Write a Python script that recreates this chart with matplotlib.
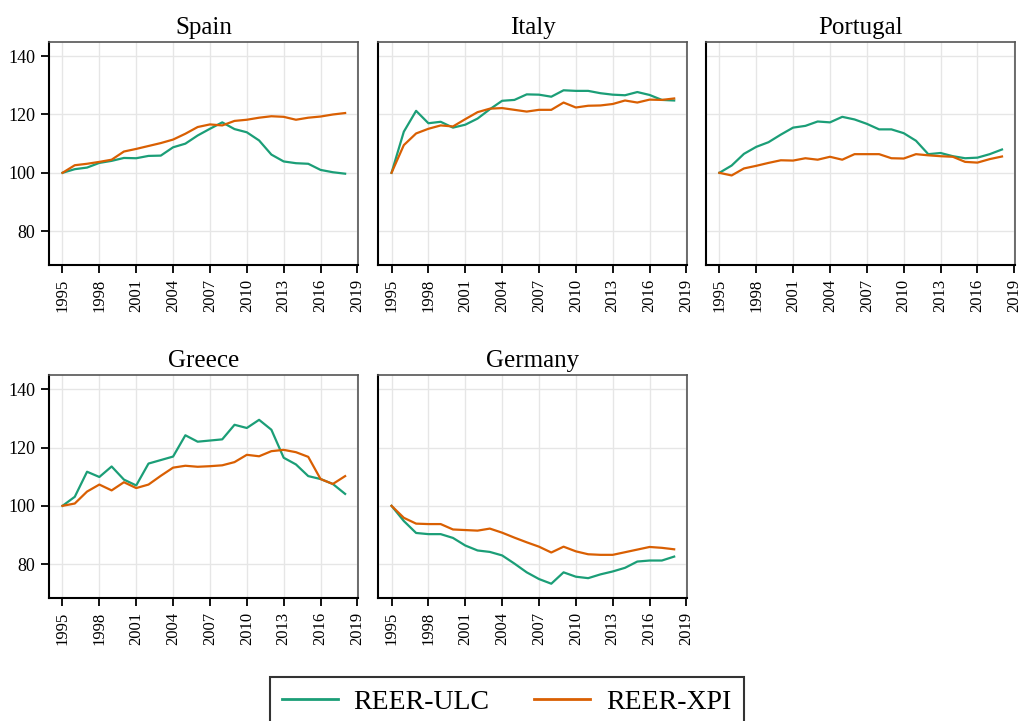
import matplotlib.pyplot as plt
import numpy as np

plt.rcParams["font.family"] = ["Liberation Serif", "DejaVu Serif"]

years = list(range(1995, 2019))
countries = ["Spain", "Italy", "Portugal", "Greece", "Germany"]

spain_ulc = [100, 101.25, 101.8, 103.4, 104.1, 105.1, 105.0, 105.8, 105.9, 108.75, 110.0, 112.8,
             115.1, 117.3, 115.0, 113.9, 111.1, 106.25, 103.9, 103.3, 103.1, 101.0, 100.2, 99.7]
spain_xpi = [100, 102.6, 103.1, 103.75, 104.5, 107.3, 108.2, 109.2, 110.2, 111.4, 113.4, 115.7,
             116.6, 116.25, 117.8, 118.2, 118.9, 119.4, 119.2, 118.2, 118.9, 119.3, 120.0, 120.5]

italy_ulc = [100, 114.1, 121.25, 117.0, 117.5, 115.5, 116.5, 118.6, 121.8, 124.7, 125.0, 126.9,
             126.8, 126.1, 128.3, 128.1, 128.1, 127.3, 126.8, 126.6, 127.7, 126.7, 125.0, 124.8]
italy_xpi = [100, 109.5, 113.5, 115.1, 116.25, 115.9, 118.4, 120.8, 122.0, 122.2, 121.6, 121.0,
             121.6, 121.6, 124.1, 122.4, 123.0, 123.1, 123.6, 124.8, 124.1, 125.1, 125.0, 125.5]

portugal_ulc = [100, 102.5, 106.5, 108.9, 110.5, 113.1, 115.5, 116.1, 117.6, 117.3, 119.2, 118.3,
                116.8, 114.9, 114.9, 113.6, 111.0, 106.4, 106.8, 105.7, 105.0, 105.2, 106.4, 108.0]
portugal_xpi = [100, 99.1, 101.5, 102.4, 103.4, 104.3, 104.2, 105.0, 104.5, 105.5, 104.5, 106.4,
                106.4, 106.4, 105.0, 104.9, 106.4, 106.0, 105.7, 105.5, 103.75, 103.5, 104.7, 105.6]

greece_ulc = [100, 103.1, 111.7, 109.9, 113.5, 109.0, 107.0, 114.5, 115.7, 116.9, 124.2, 122.0,
              122.4, 122.8, 127.8, 126.7, 129.5, 126.1, 116.5, 114.2, 110.2, 109.2, 107.5, 104.1]
greece_xpi = [100, 100.8, 104.9, 107.3, 105.3, 108.1, 106.1, 107.3, 110.3, 113.1, 113.75, 113.4,
              113.6, 113.9, 115.0, 117.5, 117.0, 118.75, 119.2, 118.4, 116.8, 109.2, 107.5, 110.2]

germany_ulc = [100, 94.8, 90.7, 90.3, 90.3, 89.0, 86.4, 84.7, 84.2, 83.0, 80.2, 77.2,
               74.9, 73.3, 77.2, 75.7, 75.2, 76.5, 77.5, 78.75, 80.9, 81.25, 81.25, 82.6]
germany_xpi = [100, 95.9, 93.9, 93.75, 93.75, 91.9, 91.7, 91.5, 92.2, 90.8, 89.1, 87.5,
               86.0, 84.0, 86.0, 84.4, 83.4, 83.2, 83.2, 84.1, 85.0, 85.9, 85.6, 85.1]

ulc = [spain_ulc, italy_ulc, portugal_ulc, greece_ulc, germany_ulc]
xpi = [spain_xpi, italy_xpi, portugal_xpi, greece_xpi, germany_xpi]

GREEN = "#1b9e77"
ORANGE = "#d95f02"

fig = plt.figure(figsize=(10.2, 7.21), dpi=100)
lefts = [0.048, 0.3706, 0.692]
bottoms = [0.6325, 0.1706]
w, h = 0.303, 0.309

for i, country in enumerate(countries):
    row, col = divmod(i, 3)
    ax = fig.add_axes([lefts[col], bottoms[row], w, h])
    ax.plot(years, ulc[i], color=GREEN, lw=1.6, label="REER-ULC")
    ax.plot(years, xpi[i], color=ORANGE, lw=1.6, label="REER-XPI")
    ax.set_xlim(1993.9, 2019.05)
    ax.set_ylim(68.4, 144.8)
    ax.set_xticks(range(1995, 2020, 3))
    ax.set_yticks([80, 100, 120, 140])
    ax.tick_params(axis="x", labelrotation=90, labelsize=12, length=6, width=1.3, pad=4)
    ax.tick_params(axis="y", labelsize=13, length=6, width=1.3, pad=4)
    if col != 0:
        ax.tick_params(axis="y", left=False, labelleft=False)
    ax.grid(color="#e6e6e6", lw=1)
    ax.set_axisbelow(True)
    ax.spines["left"].set_linewidth(1.5)
    ax.spines["bottom"].set_linewidth(1.5)
    for s in ["top", "right"]:
        ax.spines[s].set_color("#555555")
        ax.spines[s].set_linewidth(1.2)
    ax.set_title(country, fontsize=18, pad=6)

handles, labels = ax.get_legend_handles_labels()
leg = fig.legend(handles, labels, loc="upper center", bbox_to_anchor=(0.4966, 0.061),
                 ncol=2, fontsize=20, frameon=True, fancybox=False, edgecolor="black",
                 handlelength=2.0, handletextpad=0.58, columnspacing=1.6,
                 borderpad=0.45, borderaxespad=0)
leg.get_frame().set_linewidth(1.5)
for line in leg.get_lines():
    line.set_linewidth(2)

fig.savefig("out.png", dpi=100)
